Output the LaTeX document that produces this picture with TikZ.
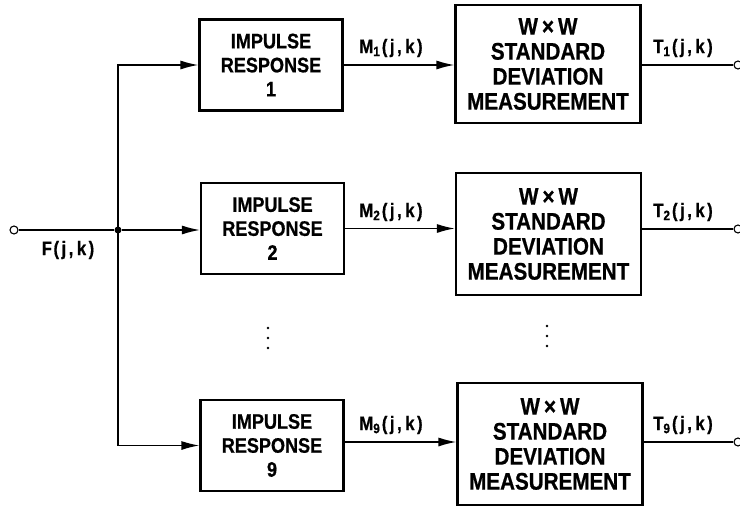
\documentclass[tikz,border=0pt]{standalone}
\usepackage{fontspec}
\setmainfont{Liberation Sans}[FakeStretch=0.86,BoldFeatures={FakeBold=0.7}]
\usetikzlibrary{arrows.meta}
\newcommand\jk{(\kern2.5pt j\kern2.5pt,\kern3.5pt k\kern2.5pt)}
\newcommand\sgl[2]{#1\textsubscript{#2}\kern1.5pt\jk}
\begin{document}
\begin{tikzpicture}[x=1pt,y=-1pt,
  blk/.style={draw,line width=2.2pt,align=center,inner sep=0pt},
  irbox/.style={blk,minimum width=143pt,minimum height=91pt,font=\bfseries\fontsize{21}{24}\selectfont},
  sdbox/.style={blk,minimum width=185pt,minimum height=120pt,font=\bfseries\fontsize{24}{25}\selectfont},
  sig/.style={font=\bfseries\fontsize{19.5}{20}\selectfont,inner sep=0pt},
  conn/.style={line width=1.4pt},
  arr/.style={conn,-{Latex[length=18pt,width=9pt]}},
  term/.style={circle,draw,line width=1.1pt,fill=white,inner sep=0pt,minimum size=8pt}]
\useasboundingbox (0,0) rectangle (740,506);

% boxes
\node[irbox] (ir1) at (271,65) {IMPULSE\\RESPONSE\\1};
\node[irbox] (ir2) at (272.5,228.5) {IMPULSE\\RESPONSE\\2};
\node[irbox] (ir9) at (272,445.5) {IMPULSE\\RESPONSE\\9};
\node[sdbox,minimum height=118pt] (sd1) at (548,64) {W\,\texttimes\,W\\STANDARD\\DEVIATION\\MEASUREMENT};
\node[sdbox,minimum height=122pt] (sd2) at (548.5,234) {W\,\texttimes\,W\\STANDARD\\DEVIATION\\MEASUREMENT};
\node[sdbox,minimum height=122pt] (sd9) at (550,444) {W\,\texttimes\,W\\STANDARD\\DEVIATION\\MEASUREMENT};

% input
\node[term] (in) at (14,230) {};
\node[circle,fill,inner sep=0pt,minimum size=7pt] (j) at (118,230) {};
\draw[conn] (in) -- (j);
\node[sig] (flab) at (68,250) {F\kern1.5pt\jk};
\draw[arr] (j.center) |- (ir1.west);
\draw[arr] (j) -- (j -| ir2.west);
\draw[arr] (j.center) |- (ir9.west);

% middle connections
\draw[arr] (ir1.east) -- (ir1.east -| sd1.west);
\draw[arr] (ir2.east) -- (ir2.east -| sd2.west);
\draw[arr] (ir9.east |- 0,442) coordinate (m9s) -- (m9s -| sd9.west);

\node[sig] (m1) at (391,48) {\sgl{M}{1}};
\node[sig] (m2) at (391,212) {\sgl{M}{2}};
\node[sig] (m9) at (391,425) {\sgl{M}{9}};

% outputs
\node[term] (o1) at (738,65) {};
\node[term] (o2) at (738,229) {};
\node[term] (o9) at (738,442) {};
\draw[conn] (o1 -| sd1.east) -- (o1);
\draw[conn] (o2 -| sd2.east) -- (o2);
\draw[conn] (o9 -| sd9.east) -- (o9);

\node[sig] (t1) at (683,48) {\sgl{T}{1}};
\node[sig] (t2) at (683,212) {\sgl{T}{2}};
\node[sig] (t9) at (683,425) {\sgl{T}{9}};

% ellipsis dots
\foreach \yy in {328,338,348} {
  \fill (268,\yy) circle (1.4pt);
}
\foreach \yy in {326,336,346} {
  \fill (547,\yy) circle (1.4pt);
}
\end{tikzpicture}
\end{document}
